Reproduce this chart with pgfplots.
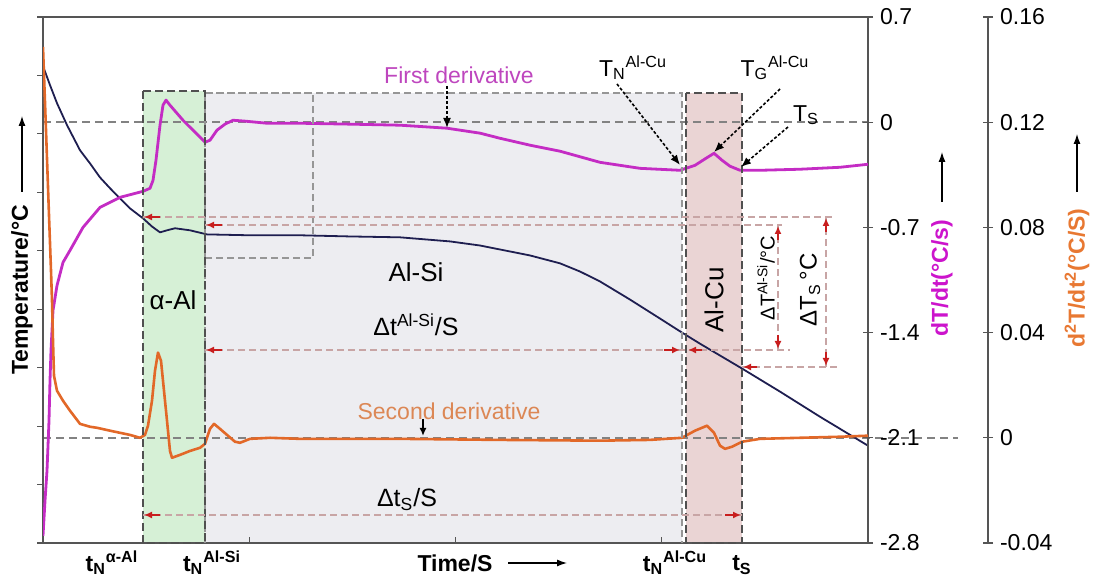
\documentclass[border=0pt]{standalone}
\usepackage{pgfplots}
\pgfplotsset{compat=1.18}
\usepackage{fontspec}
\setmainfont{Liberation Sans}
\usetikzlibrary{arrows.meta}
\definecolor{navyC}{RGB}{30,30,80}
\definecolor{magC}{RGB}{196,44,196}
\definecolor{oraC}{RGB}{226,104,40}
\definecolor{magT}{RGB}{204,20,204}
\definecolor{magL}{RGB}{190,70,190}
\definecolor{oraT}{RGB}{232,120,50}
\definecolor{oraL}{RGB}{220,135,85}
\definecolor{greenF}{RGB}{214,240,214}
\definecolor{grayF}{RGB}{237,237,241}
\definecolor{pinkF}{RGB}{234,212,212}
\definecolor{boxD}{RGB}{80,80,80}
\definecolor{boxL}{RGB}{150,150,150}
\definecolor{refL}{RGB}{130,130,130}
\definecolor{measL}{RGB}{200,165,165}
\definecolor{redA}{RGB}{200,30,30}
\definecolor{axisC}{RGB}{85,85,85}
\newcommand{\fs}{\fontsize{11.5}{13.8}\selectfont}
\begin{document}
\begin{tikzpicture}[font=\fs,
  meas/.style={measL, line width=0.6pt, dash pattern=on 3.5pt off 2pt},
  rarr/.style={redA, line width=0.9pt, -{Latex[length=4pt,width=3.5pt]}},
  darr/.style={black, line width=0.8pt, dash pattern=on 1.5pt off 1pt, -{Latex[length=5pt,width=4pt]}}]
% ---------- backgrounds (pixel frame) ----------
\begin{scope}[shift={(-21.5pt,271.5pt)}, x=0.5pt, y=-0.5pt]
\path[use as bounding box] (0,0) rectangle (1098,582);
\fill[grayF] (205,93) rectangle (682,543);
\fill[greenF] (143,91) rectangle (205,543);
\fill[pinkF] (686,93) rectangle (742,543);
\draw[refL, line width=0.6pt, dash pattern=on 4pt off 2.5pt] (43,122) -- (868,122);
\draw[refL, line width=0.6pt, dash pattern=on 4pt off 2.5pt] (43,438) -- (958,438);
\end{scope}
% ---------- temperature axis ----------
\begin{axis}[at={(0,0)}, anchor=south west, scale only axis,
  width=412.5pt, height=263pt,
  xmin=0, xmax=825, ymin=540, ymax=720,
  ytick={540,560,...,720}, yticklabels={},
  xtick={0,206.25,412.5,618.75,825}, xticklabels={},
  xtick pos=bottom, ytick pos=left,
  xtick align=inside, ytick align=outside,
  major tick length=3pt,
  axis line style={axisC, line width=0.7pt},
  tick style={axisC, line width=0.6pt}]
\addplot[navyC, line width=0.9pt, line join=round] coordinates {
(0,703.2) (7,696.7) (14,690.5) (24,683.0) (37,674.4) (47,669.9) (57,665.1)
(67,661.4) (77,657.9) (87,654.5) (100,651.1) (109,648.3) (117,646.3)
(124,647.0) (132,647.7) (147,647.0) (164,645.6) (207,645.3) (257,645.3)
(307,644.9) (357,644.6) (407,643.2) (437,641.8) (487,638.4) (517,635.7)
(537,632.9) (557,629.5) (587,623.3) (617,616.8) (639,612.0) (657,608.2)
(699,599.7) (737,591.8) (777,583.2) (825,573.3)};
\end{axis}
% ---------- first derivative axis ----------
\begin{axis}[at={(0,0)}, anchor=south west, scale only axis,
  width=412.5pt, height=263pt,
  xmin=0, xmax=825, ymin=-2.8, ymax=0.7,
  axis x line=none, axis y line*=right,
  ytick={-2.8,-2.1,-1.4,-0.7,0,0.7},
  yticklabels={-2.8,-2.1,-1.4,-0.7,0,0.7},
  ytick align=center, major tick length=5pt,
  tick label style={font=\fs},
  axis line style={axisC, line width=0.7pt},
  tick style={axisC, line width=0.6pt}]
\addplot[magC, line width=1.4pt, line join=round] coordinates {
(0,-2.753) (2,-2.52) (4,-2.32) (6,-1.987) (7,-1.72) (8,-1.52) (10,-1.253)
(14,-1.087) (20,-0.933) (27,-0.853) (40,-0.700) (57,-0.567) (77,-0.500)
(100,-0.460) (107,-0.440) (110,-0.387) (113,-0.253) (117,-0.020) (120,0.113)
(123,0.147) (127,0.113) (140,0.013) (157,-0.100) (162,-0.133) (167,-0.120)
(174,-0.053) (182,-0.013) (190,0.013) (202,0.007) (224,-0.007) (257,-0.007)
(307,-0.013) (357,-0.020) (404,-0.040) (437,-0.073) (457,-0.107) (487,-0.153)
(517,-0.193) (557,-0.267) (597,-0.307) (637,-0.320) (652,-0.287) (663,-0.240)
(671,-0.207) (679,-0.253) (687,-0.293) (697,-0.320) (717,-0.320) (757,-0.313)
(797,-0.300) (825,-0.280)};
\end{axis}
% ---------- second derivative axis ----------
\begin{axis}[at={(0,0)}, anchor=south west, scale only axis,
  width=472.5pt, height=263pt,
  xmin=0, xmax=945, ymin=-0.04, ymax=0.16,
  axis x line=none, axis y line*=right,
  ytick={-0.04,0,0.04,0.08,0.12,0.16},
  yticklabels={-0.04,0,0.04,0.08,0.12,0.16},
  ytick align=center, major tick length=5pt,
  tick label style={font=\fs},
  axis line style={axisC, line width=0.7pt},
  tick style={axisC, line width=0.6pt}]
\addplot[oraC, line width=1.3pt, line join=round] coordinates {
(0,0.1486) (3,0.1170) (6,0.0846) (8,0.0636) (9,0.0522) (10,0.0370) (11,0.0236)
(14,0.0179) (20,0.0141) (27,0.0103) (37,0.0053) (47,0.0042) (54,0.0038)
(67,0.0027) (77,0.0019) (87,0.0011) (97,0.0) (102,0.0011) (105,0.0046)
(109,0.0141) (112,0.0255) (115,0.0324) (118,0.0293) (121,0.0179) (124,0.0065)
(127,-0.0050) (129,-0.0076) (137,-0.0065) (147,-0.0050) (157,-0.0038)
(162,-0.0023) (167,0.0034) (171,0.0053) (177,0.0034) (184,0.0011)
(192,-0.0015) (197,-0.0019) (207,-0.0004) (227,0.0) (257,-0.0004)
(357,-0.0004) (457,-0.0008) (557,-0.0011) (607,-0.0008) (639,0.0)
(652,0.0027) (664,0.0046) (671,0.0019) (677,-0.0030) (682,-0.0042)
(689,-0.0034) (699,-0.0015) (717,-0.0004) (757,0.0) (797,0.0004) (825,0.0008)};
\end{axis}
% ---------- annotations (pixel frame) ----------
\begin{scope}[shift={(-21.5pt,271.5pt)}, x=0.5pt, y=-0.5pt]
% boxes
\draw[boxL, line width=0.6pt, dash pattern=on 3.5pt off 2pt] (205,543) -- (205,93) -- (682,93) -- (682,543);
\draw[boxL, line width=0.6pt, dash pattern=on 3.5pt off 2pt] (205,93) rectangle (313,258);
\draw[boxD, line width=0.9pt, dash pattern=on 4pt off 2pt] (143,91) rectangle (205,543);
\draw[boxD, line width=0.9pt, dash pattern=on 4pt off 2pt] (686,93) rectangle (742,543);
% measurement lines
\draw[meas] (143,217) -- (833,217);
\draw[rarr] (160,217) -- (144,217);
\draw[meas] (205,225) -- (782,225);
\draw[rarr] (222,225) -- (206,225);
\draw[meas] (205,350) -- (790,350);
\draw[rarr] (222,350) -- (206,350);
\draw[rarr] (664,350) -- (680,350);
\draw[rarr] (702,350) -- (688,350);
\draw[meas] (742,367) -- (838,367);
\draw[rarr] (757,367) -- (743,367);
\draw[meas] (143,515) -- (742,515);
\draw[rarr] (160,515) -- (144,515);
\draw[rarr] (725,515) -- (741,515);
\draw[meas] (778,225) -- (778,350);
\draw[rarr] (778,240) -- (778,226);
\draw[rarr] (778,335) -- (778,349);
\draw[meas] (826,217) -- (826,367);
\draw[rarr] (826,232) -- (826,218);
\draw[rarr] (826,352) -- (826,366);
% pointer arrows
\draw[darr] (447,86) -- (447,128);
\draw[darr] (617,84) -- (680,165);
\draw[darr] (780,89) -- (714,152);
\draw[darr] (788,127) -- (741,167);
\draw[black, line width=0.8pt, -{Latex[length=4pt,width=3.5pt]}] (423,419) -- (423,436);
% texts
\node[magL] at (459,75) {First derivative};
\node[oraL] at (449,411) {Second derivative};
\node at (173,300) {\fontsize{13}{15}\selectfont α-Al};
\node at (416,272) {\fontsize{13}{15}\selectfont Al-Si};
\node at (416,325) {\fontsize{12.5}{15}\selectfont Δt\textsuperscript{Al-Si}/S};
\node at (407,500) {\fontsize{12.5}{15}\selectfont Δt\textsubscript{S}/S};
\node[rotate=90] at (714,300) {\fontsize{13}{15}\selectfont Al-Cu};
\node[rotate=90] at (766,278) {\fontsize{10}{12}\selectfont ΔT\textsuperscript{Al-Si}/°C};
\node[rotate=90] at (810,290) {\fontsize{12}{14}\selectfont ΔT\textsubscript{S}\,°C};
\node at (633,68) {T\textsubscript{N}\textsuperscript{Al-Cu}};
\node at (775,68) {T\textsubscript{G}\textsuperscript{Al-Cu}};
\node at (806,115) {T\textsubscript{S}};
% x labels
\node at (112,563) {\bfseries t\textsubscript{N}\textsuperscript{α-Al}};
\node at (212,563) {\bfseries t\textsubscript{N}\textsuperscript{Al-Si}};
\node at (675,563) {\bfseries t\textsubscript{N}\textsuperscript{Al-Cu}};
\node at (742,565) {\bfseries t\textsubscript{S}};
\node at (455,563) {\bfseries Time/S};
\draw[line width=0.6pt, -{Latex[length=5pt,width=3.5pt]}] (508,563) -- (567,563);
% y labels
\node[rotate=90] at (22,290) {\bfseries Temperature/°C};
\draw[line width=0.6pt, -{Latex[length=5pt,width=3.5pt]}] (22,192) -- (22,116);
\node[rotate=90, magT] at (942,278) {\bfseries dT/dt(°C/s)};
\draw[line width=0.6pt, -{Latex[length=5pt,width=3.5pt]}] (942,202) -- (942,152);
\node[rotate=90, oraT] at (1077,278) {\bfseries d\textsuperscript{2}T/dt\textsuperscript{2}(°C/S)};
\draw[line width=0.6pt, -{Latex[length=5pt,width=3.5pt]}] (1077,192) -- (1077,134);
\end{scope}
\end{tikzpicture}
\end{document}
